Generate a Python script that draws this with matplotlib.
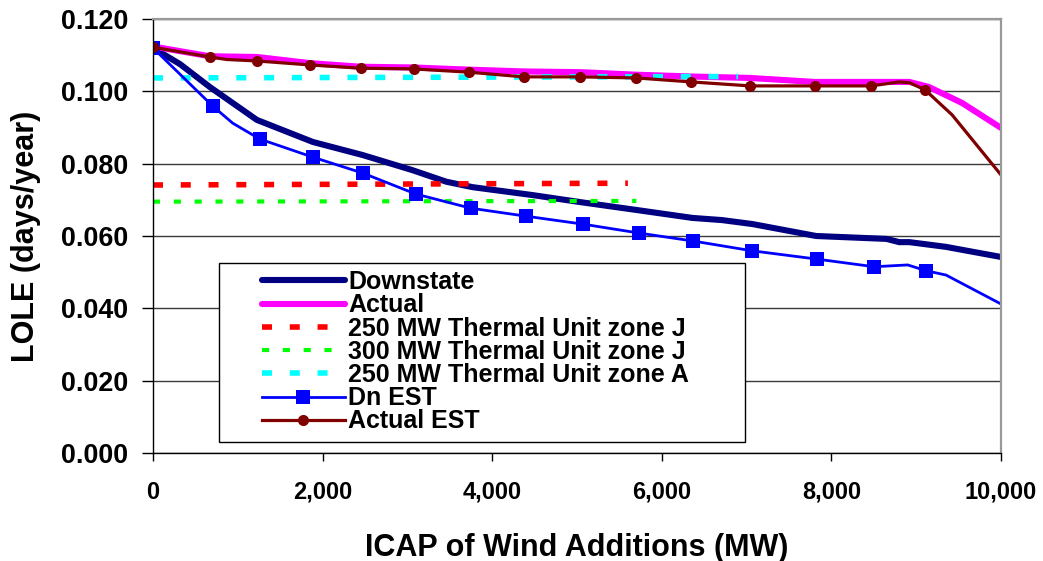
import matplotlib
matplotlib.use("Agg")
import matplotlib.pyplot as plt
from matplotlib.patches import Rectangle
from matplotlib.ticker import FuncFormatter

plt.rcParams['font.family'] = ['Liberation Sans', 'DejaVu Sans']
plt.rcParams['font.weight'] = 'bold'

# ---------------- data ----------------
downstate_x = [0, 320, 670, 1225, 1885, 2470, 3060, 3460, 3770, 4480, 5030, 5700,
               6360, 6710, 7070, 7820, 8650, 8800, 8920, 9350, 10000]
downstate_y = [0.112, 0.1075, 0.1012, 0.0921, 0.0860, 0.0824, 0.0782, 0.0750, 0.0735,
               0.0713, 0.0694, 0.0672, 0.0650, 0.0644, 0.0633, 0.0600, 0.0592, 0.0583,
               0.0583, 0.0570, 0.0542]

actual_x = [0, 670, 1225, 1850, 2450, 3070, 3720, 4370, 5040, 5700, 6350, 7040,
            7800, 8470, 8800, 8920, 9150, 9540, 10000]
actual_y = [0.1124, 0.1097, 0.1095, 0.1078, 0.1068, 0.1066, 0.1060, 0.1055, 0.1053,
            0.1046, 0.1041, 0.1037, 0.1026, 0.1026, 0.1026, 0.1026, 0.1012, 0.0968,
            0.0899]

zoneJ250_x = [0, 5600]
zoneJ250_y = [0.0741, 0.0746]

zoneJ300_x = [0, 5700]
zoneJ300_y = [0.0695, 0.0697]

zoneA250_x = [0, 6900]
zoneA250_y = [0.1037, 0.1041]

dnest_x = [0, 705, 940, 1260, 1885, 2473, 3100, 3745, 4393, 5065, 5736, 6372,
           7067, 7833, 8504, 8900, 9117, 9352, 10000]
dnest_y = [0.112, 0.0959, 0.0912, 0.0868, 0.0818, 0.0774, 0.0716, 0.0677, 0.0655,
           0.0633, 0.0608, 0.0586, 0.0559, 0.0536, 0.0515, 0.0520, 0.0504, 0.0492,
           0.0412]
dnest_marked = [0, 1, 3, 4, 5, 6, 7, 8, 9, 10, 11, 12, 13, 14, 16]

actest_x = [0, 671, 870, 1225, 1849, 2450, 3074, 3722, 4370, 5041, 5701, 6349,
            7044, 7809, 8469, 8800, 8920, 9105, 9423, 10000]
actest_y = [0.1122, 0.1095, 0.1088, 0.1084, 0.1073, 0.1064, 0.1062, 0.1053, 0.1040,
            0.1040, 0.1037, 0.1026, 0.1015, 0.1015, 0.1015, 0.1026, 0.1024, 0.1004,
            0.0935, 0.0769]
actest_marked = [0, 1, 3, 4, 5, 6, 7, 8, 9, 10, 11, 12, 13, 14, 17]

labels = ["Downstate", "Actual", "250 MW Thermal Unit zone J",
          "300 MW Thermal Unit zone J", "250 MW Thermal Unit zone A",
          "Dn EST", "Actual EST"]

x_ticks = [0, 2000, 4000, 6000, 8000, 10000]
y_ticks = [0.0, 0.02, 0.04, 0.06, 0.08, 0.10, 0.12]

# ---------------- figure ----------------
W, H = 1043, 561
fig = plt.figure(figsize=(W / 100, H / 100), dpi=100)
L, R, B, T = 153, 1001, 453, 19
ax = fig.add_axes([L / W, (H - B) / H, (R - L) / W, (B - T) / H])

h1, = ax.plot(downstate_x, downstate_y, color='#000080', lw=4.4,
              solid_capstyle='round', solid_joinstyle='round', label=labels[0])
h2, = ax.plot(actual_x, actual_y, color='#FF00FF', lw=4.4,
              solid_capstyle='round', solid_joinstyle='round', label=labels[1])
h3, = ax.plot(zoneJ250_x, zoneJ250_y, color='#FF0000', lw=4.0,
              dashes=(1.8, 3.2), label=labels[2])
h4, = ax.plot(zoneJ300_x, zoneJ300_y, color='#00FF00', lw=3.0,
              dashes=(1.7, 3.3), label=labels[3])
h5, = ax.plot(zoneA250_x, zoneA250_y, color='#00FFFF', lw=4.0,
              dashes=(1.8, 3.2), label=labels[4])
h6, = ax.plot(dnest_x, dnest_y, color='#0000FF', lw=2.0, marker='s',
              markersize=10, markevery=dnest_marked, markeredgewidth=0,
              label=labels[5])
h7, = ax.plot(actest_x, actest_y, color='#800000', lw=2.3, marker='o',
              markersize=8, markevery=actest_marked, markeredgewidth=0,
              label=labels[6])

ax.set_xlim(0, 10000)
ax.set_ylim(0, 0.12)
ax.set_xticks(x_ticks)
ax.set_yticks(y_ticks)
ax.xaxis.set_major_formatter(FuncFormatter(lambda v, p: f"{v:,.0f}"))
ax.yaxis.set_major_formatter(FuncFormatter(lambda v, p: f"{v:.3f}"))
ax.tick_params(axis='y', labelsize=19.4, length=8, width=1, pad=10, direction='out')
ax.tick_params(axis='x', labelsize=17, length=6, width=1, pad=14, direction='out')

ax.grid(axis='y', color='#3a3a3a', lw=1)
ax.grid(axis='x', visible=False)
ax.set_axisbelow(True)

for s in ['left', 'bottom']:
    ax.spines[s].set_color('black')
    ax.spines[s].set_linewidth(1)
for s in ['top', 'right']:
    ax.spines[s].set_color('#999999')
    ax.spines[s].set_linewidth(1.6)

ax.set_xlabel("ICAP of Wind Additions (MW)", fontsize=22, fontweight='bold')
ax.set_ylabel("LOLE (days/year)", fontsize=22, fontweight='bold')
ax.xaxis.set_label_coords(0.5, (B - 533) / (B - T))
ax.yaxis.set_label_coords((41.5 - L) / (R - L), 0.5)

# legend frame
rect = Rectangle((219 / W, (H - 442) / H), 526 / W, 179 / H,
                 transform=fig.transFigure, facecolor='white',
                 edgecolor='black', lw=1, zorder=9, clip_on=False)
ax.add_patch(rect)

leg = ax.legend(handles=[h1, h2, h3, h4, h5, h6, h7], labels=labels,
                loc='upper left', bbox_to_anchor=(262 / W, (H - 270) / H),
                bbox_transform=fig.transFigure, frameon=False, borderpad=0,
                borderaxespad=0, handlelength=3.3, handletextpad=0.15,
                labelspacing=-0.03, prop=dict(size=18, weight='bold'))
leg.set_zorder(10)

fig.savefig("out.png", dpi=100, facecolor='white')
